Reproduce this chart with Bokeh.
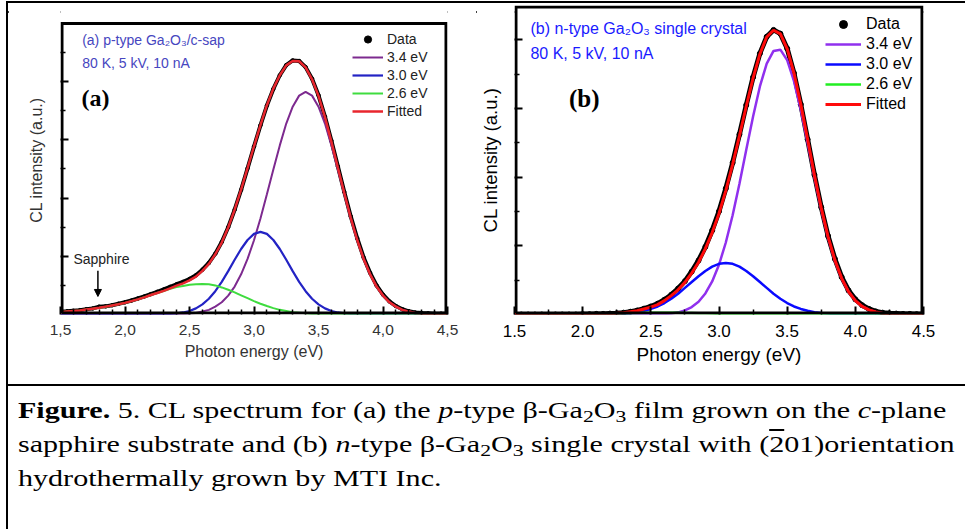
from bokeh.plotting import figure
from bokeh.models import (Range1d, FixedTicker, Legend, LegendItem, Label, Arrow,
                          NormalHead, Div, CustomJSTickFormatter)
from bokeh.layouts import row, column
from bokeh.embed import file_html
from bokeh.resources import INLINE

# ---------------- data (photon energy grid, eV) ----------------
ENERGY = [1.50, 1.55, 1.60, 1.65, 1.70, 1.75, 1.80, 1.85, 1.90, 1.95,
          2.00, 2.05, 2.10, 2.15, 2.20, 2.25, 2.30, 2.35, 2.40, 2.45,
          2.50, 2.55, 2.60, 2.65, 2.70, 2.75, 2.80, 2.85, 2.90, 2.95,
          3.00, 3.05, 3.10, 3.15, 3.20, 3.25, 3.30, 3.35, 3.40, 3.45,
          3.50, 3.55, 3.60, 3.65, 3.70, 3.75, 3.80, 3.85, 3.90, 3.95,
          4.00, 4.05, 4.10, 4.15, 4.20, 4.25, 4.30, 4.35, 4.40, 4.45, 4.50]

# panel (a): p-type Ga2O3 / c-sapphire
A_DATA = [0.010, 0.011, 0.013, 0.015, 0.018, 0.021, 0.027, 0.028, 0.032, 0.037,
          0.042, 0.048, 0.055, 0.062, 0.070, 0.078, 0.086, 0.095, 0.104, 0.112,
          0.122, 0.135, 0.154, 0.177, 0.209, 0.249, 0.300, 0.360, 0.428, 0.502,
          0.577, 0.650, 0.718, 0.775, 0.822, 0.857, 0.873, 0.871, 0.850, 0.810,
          0.753, 0.680, 0.597, 0.509, 0.421, 0.337, 0.262, 0.196, 0.143, 0.100,
          0.068, 0.045, 0.029, 0.018, 0.011, 0.007, 0.005, 0.004, 0.003, 0.003, 0.003]
A_34 = [0, 0, 0, 0, 0, 0, 0, 0, 0, 0,
        0, 0, 0, 0, 0, 0, 0, 0, 0.001, 0.002,
        0.003, 0.005, 0.010, 0.016, 0.027, 0.042, 0.065, 0.096, 0.138, 0.191,
        0.255, 0.330, 0.413, 0.498, 0.581, 0.656, 0.714, 0.752, 0.765, 0.752,
        0.714, 0.656, 0.581, 0.498, 0.413, 0.330, 0.255, 0.191, 0.138, 0.096,
        0.065, 0.042, 0.027, 0.016, 0.010, 0.005, 0.003, 0.002, 0.001, 0, 0]
A_30 = [0, 0, 0, 0, 0, 0, 0, 0, 0, 0,
        0, 0, 0, 0, 0, 0, 0, 0.002, 0.004, 0.007,
        0.012, 0.021, 0.035, 0.054, 0.080, 0.112, 0.149, 0.188, 0.225, 0.256,
        0.277, 0.284, 0.277, 0.256, 0.225, 0.188, 0.149, 0.112, 0.080, 0.054,
        0.035, 0.021, 0.012, 0.007, 0.004, 0.002, 0.001, 0, 0, 0,
        0, 0, 0, 0, 0, 0, 0, 0, 0, 0, 0]
A_26 = [0.008, 0.010, 0.012, 0.014, 0.017, 0.020, 0.023, 0.027, 0.031, 0.035,
        0.040, 0.046, 0.052, 0.059, 0.067, 0.074, 0.081, 0.088, 0.094, 0.098,
        0.102, 0.104, 0.105, 0.104, 0.100, 0.093, 0.085, 0.076, 0.066, 0.056,
        0.046, 0.037, 0.029, 0.022, 0.016, 0.012, 0.008, 0.006, 0.004, 0.002,
        0.002, 0.001, 0.001, 0, 0, 0, 0, 0, 0, 0,
        0, 0, 0, 0, 0, 0, 0, 0, 0, 0, 0]
A_FIT = [0.008, 0.010, 0.012, 0.014, 0.017, 0.020, 0.023, 0.027, 0.031, 0.035,
         0.040, 0.046, 0.052, 0.059, 0.067, 0.074, 0.081, 0.090, 0.099, 0.107,
         0.117, 0.130, 0.150, 0.174, 0.207, 0.247, 0.299, 0.360, 0.429, 0.503,
         0.578, 0.651, 0.719, 0.776, 0.822, 0.856, 0.871, 0.870, 0.849, 0.808,
         0.751, 0.678, 0.594, 0.505, 0.417, 0.332, 0.256, 0.191, 0.138, 0.096,
         0.065, 0.042, 0.027, 0.016, 0.010, 0.005, 0.003, 0.002, 0.001, 0.001, 0.000]

# panel (b): n-type Ga2O3 single crystal
B_DATA = [0, 0, 0, 0, 0, 0, 0, 0, 0, 0,
          0.001, 0.001, 0.002, 0.002, 0.003, 0.004, 0.006, 0.009, 0.013, 0.019,
          0.026, 0.035, 0.048, 0.064, 0.084, 0.108, 0.139, 0.175, 0.219, 0.272,
          0.334, 0.408, 0.491, 0.583, 0.678, 0.768, 0.845, 0.899, 0.921, 0.909,
          0.861, 0.781, 0.680, 0.567, 0.452, 0.347, 0.254, 0.180, 0.121, 0.078,
          0.049, 0.030, 0.018, 0.010, 0.006, 0.004, 0.003, 0.002, 0.002, 0.001, 0.001]
B_34 = [0, 0, 0, 0, 0, 0, 0, 0, 0, 0,
        0, 0, 0, 0, 0, 0, 0, 0, 0, 0,
        0, 0, 0.002, 0.0035, 0.007, 0.013, 0.024, 0.041, 0.068, 0.107,
        0.161, 0.233, 0.321, 0.423, 0.533, 0.641, 0.738, 0.812, 0.853, 0.857,
        0.823, 0.755, 0.662, 0.555, 0.444, 0.340, 0.249, 0.174, 0.116, 0.074,
        0.045, 0.026, 0.015, 0.008, 0.004, 0.002, 0.001, 0, 0, 0, 0]
B_30 = [0, 0, 0, 0, 0, 0, 0, 0, 0, 0,
        0, 0, 0, 0.0004, 0.001, 0.0015, 0.003, 0.0045, 0.007, 0.012,
        0.018, 0.026, 0.037, 0.051, 0.067, 0.086, 0.105, 0.124, 0.141, 0.155,
        0.164, 0.167, 0.164, 0.155, 0.141, 0.124, 0.105, 0.086, 0.067, 0.051,
        0.037, 0.026, 0.018, 0.012, 0.007, 0.0045, 0.003, 0.0015, 0.001, 0.0004,
        0, 0, 0, 0, 0, 0, 0, 0, 0, 0, 0]
B_26 = [0, 0, 0, 0, 0, 0, 0, 0, 0, 0,
        0, 0, 0, 0, 0.001, 0.002, 0.003, 0.004, 0.005, 0.006,
        0.006, 0.006, 0.006, 0.006, 0.006, 0.005, 0.005, 0.004, 0.004, 0.003,
        0.002, 0.001, 0.001, 0, 0, 0, 0, 0, 0, 0,
        0, 0, 0, 0, 0, 0, 0, 0, 0, 0,
        0, 0, 0, 0, 0, 0, 0, 0, 0, 0, 0]
B_FIT = [0, 0, 0, 0, 0, 0, 0, 0, 0, 0,
         0, 0, 0, 0.000, 0.002, 0.004, 0.006, 0.009, 0.012, 0.018,
         0.024, 0.032, 0.045, 0.061, 0.080, 0.104, 0.134, 0.169, 0.213, 0.265,
         0.327, 0.401, 0.486, 0.578, 0.674, 0.765, 0.843, 0.898, 0.920, 0.908,
         0.860, 0.781, 0.680, 0.567, 0.451, 0.345, 0.252, 0.176, 0.117, 0.074,
         0.045, 0.026, 0.015, 0.008, 0.004, 0.002, 0.001, 0, 0, 0, 0]

LEGEND_LABELS = ["Data", "3.4 eV", "3.0 eV", "2.6 eV", "Fitted"]
X_MAJOR = [1.5, 2.0, 2.5, 3.0, 3.5, 4.0, 4.5]

SANS = "Liberation Sans"
SERIF = "Liberation Serif"


def make_panel(width, height, ml, mr, mt, mb, ytop):
    p = figure(width=width, height=height, x_range=Range1d(1.5, 4.5), y_range=Range1d(0, ytop),
               output_backend="svg", toolbar_location=None,
               min_border_left=ml, min_border_right=mr, min_border_top=mt, min_border_bottom=mb,
               margin=0)
    if p.title is not None:
        p.title.text = ""
        p.title.text_font_size = "0px"
        p.title.standoff = 0
        p.title.offset = 0
    p.xgrid.visible = False
    p.ygrid.visible = False
    p.outline_line_color = None
    p.background_fill_color = "white"
    p.border_fill_color = "white"
    for ax in (p.xaxis[0], p.yaxis[0]):
        ax.axis_line_color = None
        ax.major_tick_in = 8
        ax.major_tick_out = 0
        ax.minor_tick_in = 5
        ax.minor_tick_out = 0
        ax.major_tick_line_width = 2
        ax.minor_tick_line_width = 1.5
        ax.axis_label_text_font = SANS
        ax.axis_label_text_font_style = "normal"
        ax.major_label_text_font = SANS
    p.yaxis[0].formatter = CustomJSTickFormatter(code="return ''")
    p.yaxis[0].major_label_standoff = 0
    return p


def add_frame(p, box_top, dx, dy):
    # black plot box: inset by half a line width so that it is not clipped by the frame
    x0, x1 = p.x_range.start + dx, p.x_range.end - dx
    y0 = p.y_range.start + dy
    p.line([x0, x1, x1, x0, x0], [y0, y0, box_top, box_top, y0],
           line_color="black", line_width=3, line_join="miter")


# ---------------- panel (a) ----------------
# frame spans 5..315 px; the plot box (value 1.0) sits at 23 px
pa = make_panel(468, 381, 52, 29, 2, 69, 310 / 292)
xa = pa.xaxis[0]
ya = pa.yaxis[0]
xa.ticker = FixedTicker(ticks=X_MAJOR,
                        minor_ticks=[1.6, 1.7, 1.8, 1.9, 2.1, 2.2, 2.3, 2.4, 2.6, 2.7, 2.8, 2.9,
                                     3.1, 3.2, 3.3, 3.4, 3.6, 3.7, 3.8, 3.9, 4.1, 4.2, 4.3, 4.4])
ya.ticker = FixedTicker(ticks=[0.2, 0.4, 0.6, 0.8], minor_ticks=[0.1, 0.3, 0.5, 0.7, 0.9])
xa.formatter = CustomJSTickFormatter(code="return tick.toFixed(1).replace('.', ',')")
xa.major_label_text_font_size = "15.5px"
xa.major_label_text_color = "#333333"
xa.major_label_standoff = 10
xa.axis_label = "Photon energy (eV)"
xa.axis_label_text_font_size = "16px"
xa.axis_label_text_color = "#333333"
xa.axis_label_standoff = 5
ya.axis_label = "CL intensity (a.u.)"
ya.axis_label_text_font_size = "16px"
ya.axis_label_text_color = "#333333"
ya.axis_label_standoff = 16

a_data_line = pa.line(ENERGY, A_DATA, line_color="black", line_width=4)
a_dots = pa.scatter(ENERGY, A_DATA, size=3.5, color="black")
a_34 = pa.line(ENERGY, A_34, line_color="#7d2a8f", line_width=2)
a_30 = pa.line(ENERGY, A_30, line_color="#2323c4", line_width=2.2)
a_26 = pa.line(ENERGY, A_26, line_color="#3fdc3f", line_width=2)
a_fit = pa.line(ENERGY, A_FIT, line_color="#e8262e", line_width=2.5)
add_frame(pa, 1.0, 1.5 * 3 / 387, 1.5 / 292)

leg_a = Legend(items=[LegendItem(label=LEGEND_LABELS[0], renderers=[a_dots]),
                      LegendItem(label=LEGEND_LABELS[1], renderers=[a_34]),
                      LegendItem(label=LEGEND_LABELS[2], renderers=[a_30]),
                      LegendItem(label=LEGEND_LABELS[3], renderers=[a_26]),
                      LegendItem(label=LEGEND_LABELS[4], renderers=[a_fit])],
               location=(292, 194), padding=0, margin=0, spacing=0,
               glyph_width=31, glyph_height=18, label_height=18, label_standoff=4,
               label_text_font=SANS, label_text_font_size="14px", label_text_color="#222222",
               background_fill_alpha=0, border_line_color=None)
pa.add_layout(leg_a)

pa.add_layout(Label(x=1.668, y=0.942, text="(a) p-type Ga₂O₃/c-sap", text_font=SANS,
                    text_font_size="14px", text_color="#4646c0", text_baseline="middle"))
pa.add_layout(Label(x=1.668, y=0.863, text="80 K, 5 kV, 10 nA", text_font=SANS,
                    text_font_size="14px", text_color="#4646c0", text_baseline="middle"))
pa.add_layout(Label(x=1.663, y=0.743, text="(a)", text_font=SERIF, text_font_style="bold",
                    text_font_size="24px", text_color="black", text_baseline="middle"))
pa.add_layout(Label(x=1.60, y=0.192, text="Sapphire", text_font=SANS,
                    text_font_size="14px", text_color="#222222", text_baseline="middle"))
pa.add_layout(Arrow(x_start=1.79, y_start=0.150, x_end=1.79, y_end=0.062, line_width=1.5,
                    line_color="black",
                    end=NormalHead(size=7, fill_color="black", line_color="black")))

# ---------------- panel (b) ----------------
pb = make_panel(489, 381, 36, 42, 2, 70, 1.0)
xb = pb.xaxis[0]
yb = pb.yaxis[0]
xb.ticker = FixedTicker(ticks=X_MAJOR, minor_ticks=[1.75, 2.25, 2.75, 3.25, 3.75, 4.25])
yb.ticker = FixedTicker(ticks=[2 / 9, 4 / 9, 6 / 9, 8 / 9],
                        minor_ticks=[1 / 9, 3 / 9, 5 / 9, 7 / 9])
xb.formatter = CustomJSTickFormatter(code="return tick.toFixed(1)")
xb.major_label_text_font_size = "17px"
xb.major_label_text_color = "black"
xb.major_label_standoff = 10
xb.axis_label = "Photon energy (eV)"
xb.axis_label_text_font_size = "19px"
xb.axis_label_text_color = "black"
xb.axis_label_standoff = 4
yb.axis_label = "CL intensity (a.u.)"
yb.axis_label_text_font_size = "18.5px"
yb.axis_label_text_color = "black"
yb.axis_label_standoff = 14

b_data_line = pb.line(ENERGY, B_DATA, line_color="black", line_width=5)
b_dots = pb.scatter(ENERGY, B_DATA, size=5, color="black")
b_34 = pb.line(ENERGY, B_34, line_color="#9030ee", line_width=2.5)
b_30 = pb.line(ENERGY, B_30, line_color="#0a0aff", line_width=2.5)
b_26 = pb.line(ENERGY, B_26, line_color="#22ee22", line_width=2.5)
b_fit = pb.line(ENERGY, B_FIT, line_color="#ff0a0a", line_width=3)
add_frame(pb, 1.0 - 1.5 / 309, 1.5 * 3 / 411, 1.5 / 309)

leg_b = Legend(items=[LegendItem(label=LEGEND_LABELS[0], renderers=[b_dots]),
                      LegendItem(label=LEGEND_LABELS[1], renderers=[b_34]),
                      LegendItem(label=LEGEND_LABELS[2], renderers=[b_30]),
                      LegendItem(label=LEGEND_LABELS[3], renderers=[b_26]),
                      LegendItem(label=LEGEND_LABELS[4], renderers=[b_fit])],
               location=(311, 200), padding=0, margin=0, spacing=0,
               glyph_width=36, glyph_height=20, label_height=20, label_standoff=5,
               label_text_font=SANS, label_text_font_size="16px", label_text_color="black",
               background_fill_alpha=0, border_line_color=None)
pb.add_layout(leg_b)

pb.add_layout(Label(x=1.617, y=0.926, text="(b) n-type Ga₂O₃ single crystal", text_font=SANS,
                    text_font_size="16px", text_color="#1a1aff", text_baseline="middle"))
pb.add_layout(Label(x=1.617, y=0.845, text="80 K, 5 kV, 10 nA", text_font=SANS,
                    text_font_size="16px", text_color="#1a1aff", text_baseline="middle"))
pb.add_layout(Label(x=1.90, y=0.699, text="(b)", text_font=SERIF, text_font_style="bold",
                    text_font_size="25px", text_color="black", text_baseline="middle"))

# ---------------- caption & frame lines ----------------
caption_html = (
    '<style>sub{font-size:0.72em;vertical-align:-0.25em;line-height:0;}</style>'
    '<div style="box-sizing:border-box;width:957px;height:145px;border-top:2px solid #000;'
    'padding:7px 0 0 10px;overflow:hidden;">'
    '<div style="transform:scaleX(1.28);transform-origin:0 0;font-family:\'Liberation Serif\',serif;'
    'font-size:23.5px;line-height:34px;white-space:nowrap;color:#000;">'
    '<b>Figure.</b> 5. CL spectrum for (a) the <i>p</i>-type &beta;-Ga<sub>2</sub>O<sub>3</sub> film grown on the <i>c</i>-plane<br>'
    'sapphire substrate and (b) <i>n</i>-type &beta;-Ga<sub>2</sub>O<sub>3</sub> single crystal with '
    '(<span style="text-decoration:overline">2</span>01)orientation<br>'
    'hydrothermally grown by MTI Inc.'
    '</div></div>'
)
caption = Div(text=caption_html, width=957, height=145, margin=0)
top_line = Div(text='<div style="width:959px;height:2px;background:#000;"></div>',
               width=959, height=2, margin=(1, 0, 0, 6),
               styles={"background-color": "#000000"})
left_line = Div(text='<div style="width:2px;height:526px;background:#000;"></div>',
                width=2, height=526, margin=(0, 0, 0, 6),
                styles={"background-color": "#000000"})

layout = column(
    top_line,
    row(left_line, column(row(pa, pb, margin=0), caption, margin=0), margin=0),
    margin=0,
)

open("out.html", "w").write(file_html(layout, INLINE))
